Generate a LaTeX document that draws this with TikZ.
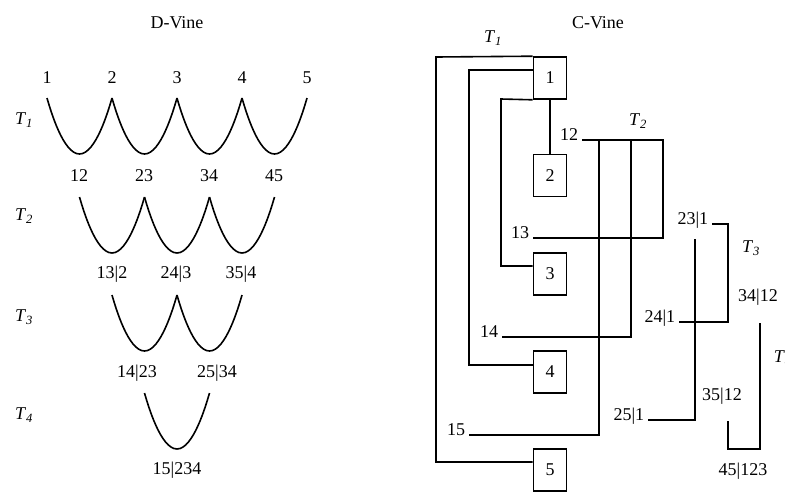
\documentclass[tikz,border=0pt]{standalone}
\usepackage{fontspec}
\setmainfont{Liberation Serif}
\usepackage{tikz}

\newcommand{\Tlab}[1]{\textit{T}\textsubscript{\textit{#1}}}

\begin{document}
\begin{tikzpicture}[x=1pt,y=-1pt,line width=1.6pt,font=\fontsize{18}{20}\selectfont,
  varbox/.style={draw,minimum width=33pt,minimum height=42pt,inner sep=0pt},
  edgelab/.style={anchor=base east,xshift=-3pt,inner sep=0pt}]
  \useasboundingbox (0,0) rectangle (785,491);
  % D-Vine
  \node (dtitle) at (177,23) {D-Vine};
  \foreach \t/\y in {1/120,2/216,3/317,4/415}{\node (dT\t) at (24,\y) {\Tlab{\t}};}
  \foreach \v/\x in {1/47,2/112,3/177,4/242,5/307}{\node (d\v) at (\x,78) {\v};}
  \foreach \v/\x in {12/79,23/144,34/209,45/274}{\node (d\v) at (\x,176) {\v};}
  \foreach \v/\x in {13|2/112,24|3/176,35|4/241}{\node at (\x,274) {\v};}
  \node (d14) at (137,373) {14|23};
  \node (d25) at (217,373) {25|34};
  \node (d15) at (177,470) {15|234};
  \foreach \ty/\tx/\n in {98/47/4,197/79.5/3,295/112/2,393/144.5/1}
    \foreach \i in {1,...,\n}
      \draw (\tx+65*\i-65,\ty) parabola bend (\tx+65*\i-32.5,\ty+56) (\tx+65*\i,\ty);
  % C-Vine
  \node (ctitle) at (598,23) {C-Vine};
  \node (cT1) at (493,38) {\Tlab{1}};
  \node (cT2) at (638,121) {\Tlab{2}};
  \node (cT3) at (751,248) {\Tlab{3}};
  \node[anchor=west,inner sep=0pt] (cT4) at (773,358) {\Tlab{4}};
  \node[varbox] (b1) at (550,78) {1};
  \node[varbox] (b2) at (550,175.5) {2};
  \node[varbox] (b3) at (550,274) {3};
  \node[varbox] (b4) at (550,372) {4};
  \node[varbox] (b5) at (550,470) {5};
  \draw (b1.south) -- (b2.north);
  \draw (b1.north west) -- (436,57) |- ([yshift=8pt]b5.west);
  \draw ([yshift=8pt]b1.west) -- (469,70) |- ([yshift=7pt]b4.west);
  \draw (b1.south west) -- (501,99) |- ([yshift=8pt]b3.west);
  % tree 2
  \coordinate (a12) at (582,140);
  \coordinate (a13) at (533,238);
  \coordinate (a14) at (502,337);
  \coordinate (a15) at (469,435);
  \foreach \c/\v in {a12/12,a13/13,a14/14,a15/15}{\node[edgelab] at (\c) {\v};}
  \draw (a12) -| (663,238) -- (a13);
  \draw (599,140) |- (a15);
  \draw (631,140) |- (a14);
  % tree 3
  \coordinate (a231) at (712,224);
  \coordinate (a241) at (679,322);
  \coordinate (a251) at (648,420);
  \foreach \c/\v in {a231/23|1,a241/24|1,a251/25|1}{\node[edgelab] at (\c) {\v};}
  \draw (a231) -| (728,322) -- (a241);
  \draw (695,239) |- (a251);
  % tree 4
  \coordinate (a3412) at (760,323);
  \coordinate (a3512) at (728,421);
  \node[anchor=south] (l3412) at (758,310) {34|12};
  \node[anchor=south] (l3512) at (722,409) {35|12};
  \node (l45123) at (743,471) {45|123};
  \draw (a3412) |- (728,449) -- (a3512);
\end{tikzpicture}
\end{document}
